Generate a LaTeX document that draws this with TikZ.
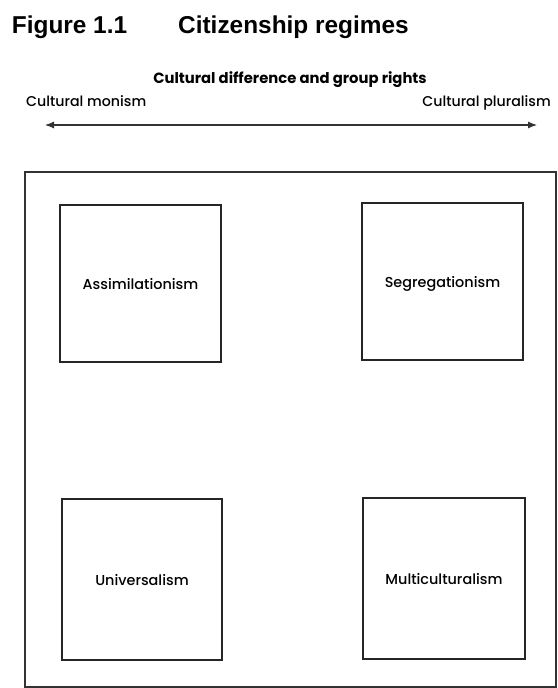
\documentclass[tikz,border=0pt]{standalone}
\usepackage{fontspec}
\setmainfont{Liberation Sans}
\newfontfamily\fut{Poppins}
\newfontfamily\futm{Poppins Medium}
\usetikzlibrary{arrows.meta}
\begin{document}
\begin{tikzpicture}[x=1pt,y=-1pt,
  frame/.style={draw=black!80, line width=1.2pt, inner sep=0pt},
  regime/.style={draw=black!85, line width=1.2pt, inner sep=0pt,
    text height=11pt, text depth=0pt,
    font=\futm\fontsize{14.4}{16}\selectfont},
  ttl/.style={font=\bfseries\fontsize{24.4}{28}\selectfont, inner sep=0pt, anchor=base west},
  sub/.style={font=\fut\bfseries\fontsize{14.8}{17}\selectfont, inner sep=0pt},
  pole/.style={font=\futm\fontsize{14.2}{16}\selectfont, inner sep=0pt},
  axis/.style={draw=black!80, line width=1.1pt, {Latex[length=9pt,width=7pt]}-{Latex[length=9pt,width=7pt]}}]
\useasboundingbox (0,0) rectangle (557,688);
\fill[white] (0,0) rectangle (557,688);
% title
\node[ttl] (fig) at (11.7,33.3) {Figure 1.1};
\node[ttl] (cit) at (178,33.3) {Citizenship regimes};
% axis
\node[sub, anchor=base] (dim) at (290,83.5) {Cultural difference and group rights};
\node[pole, anchor=base west] (mon) at (26,106.7) {Cultural monism};
\node[pole, anchor=base east] (plu) at (551,106.7) {Cultural pluralism};
\coordinate (aL) at (45,125);
\coordinate (aR) at (537,125);
\draw[axis] (aL) -- (aR);
% outer frame
\node[frame, minimum width=531pt, minimum height=515pt] (outer) at (290.5,429.5) {};
% regimes
\node[regime, minimum width=161pt, minimum height=157pt] (ass) at (140.5,283.5) {Assimilationism};
\node[regime, minimum width=161pt, minimum height=157pt] (seg) at (442.5,281.5) {Segregationism};
\node[regime, minimum width=160pt, minimum height=161pt] (uni) at (142,579.5) {Universalism};
\node[regime, minimum width=162pt, minimum height=161pt] (mul) at (444,578.5) {Multiculturalism};
\end{tikzpicture}
\end{document}
